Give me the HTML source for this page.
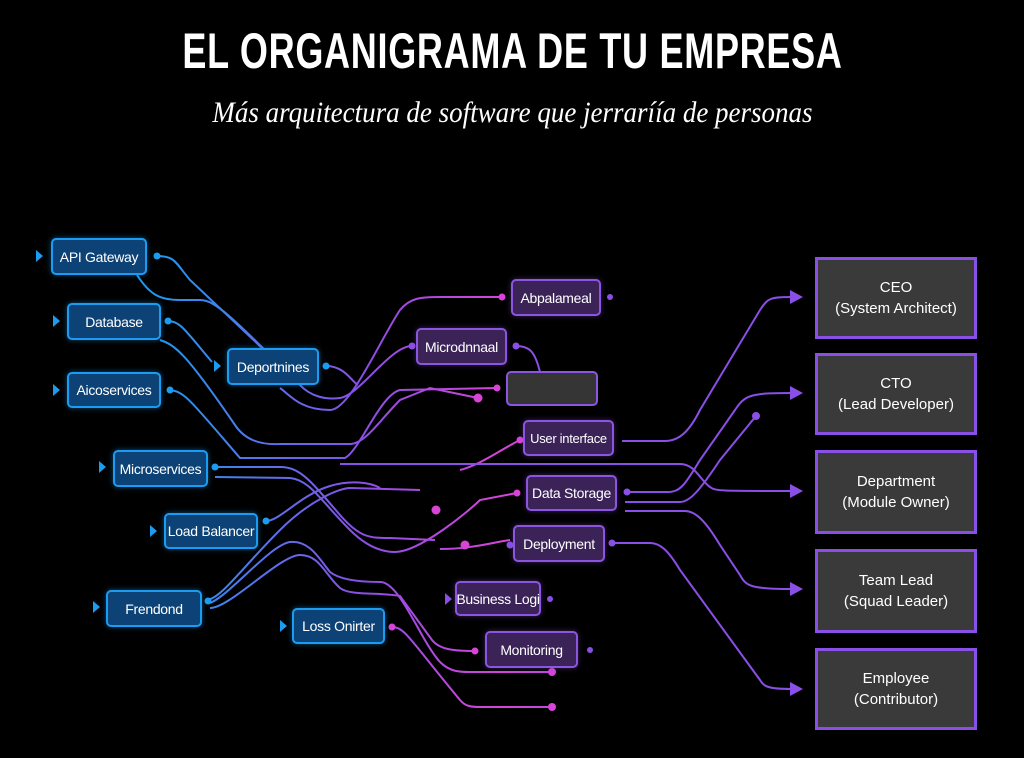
<!DOCTYPE html>
<html><head><meta charset="utf-8"><style>
html,body{margin:0;padding:0;background:#000;}
body{width:1024px;height:758px;position:relative;overflow:hidden;font-family:"Liberation Sans",sans-serif;}
.t{position:absolute;left:0;width:1024px;text-align:center;color:#fff;}
.b{position:absolute;box-sizing:border-box;border-radius:5px;color:#fff;font-size:14px;display:flex;align-items:center;justify-content:center;white-space:nowrap;letter-spacing:-0.3px;}
.bl{background:#0c4275;border:2px solid #1c9cf0;box-shadow:0 0 6px rgba(30,150,240,.5);}
.pu{background:#3b2358;border:2px solid #8c55e0;box-shadow:0 0 6px rgba(140,85,224,.4);}
.r{position:absolute;left:815px;width:162px;box-sizing:border-box;background:#3a3a3a;border:3px solid #8a4fe6;color:#fff;font-size:15px;text-align:center;display:flex;flex-direction:column;justify-content:center;line-height:21px;}
</style></head><body>
<div class="t" style="top:22px;font-size:50px;font-weight:bold;letter-spacing:1px;"><span style="display:inline-block;transform:scaleX(0.72);font-family:'Liberation Sans Narrow','Liberation Sans',sans-serif;">EL ORGANIGRAMA DE TU EMPRESA</span></div>
<div class="t" style="top:96px;font-size:30px;font-style:italic;font-family:'Liberation Serif',serif;"><span style="display:inline-block;transform:scaleX(0.9);">Más arquitectura de software que jerraríía de personas</span></div>

<svg width="1024" height="758" style="position:absolute;left:0;top:0" fill="none" stroke-width="2">
<defs>
<linearGradient id="g" gradientUnits="userSpaceOnUse" x1="150" y1="0" x2="620" y2="0">
<stop offset="0" stop-color="#1c9cf0"/><stop offset="0.45" stop-color="#8a4fe6"/><stop offset="0.75" stop-color="#d844d8"/><stop offset="1" stop-color="#9a4fe6"/></linearGradient>
<marker id="a" markerWidth="14" markerHeight="14" refX="2" refY="7" orient="auto" markerUnits="userSpaceOnUse"><path d="M0,0 L13,7 L0,14Z" fill="#8a4fe6"/></marker>
</defs>
<g stroke="url(#g)">
<path d="M157,256 C175,256 175,262 190,280 L262,348"/>
<path d="M137,275 C150,295 160,300 180,300 L200,300 C215,300 230,315 300,385 C310,396 325,400 340,398 C360,395 390,346 412,346"/>
<path d="M168,321 C180,321 185,330 212,362"/>
<path d="M160,340 C175,345 185,352 235,425 C245,440 260,445 280,444 L350,444 C365,444 380,420 400,400 L430,388 L478,398"/>
<path d="M326,366 C345,366 352,382 358,385"/>
<path d="M280,388 C290,395 300,410 330,410 C350,410 380,340 400,310 C410,298 420,297 440,297 L502,297"/>
<path d="M170,390 C185,392 190,400 240,458 L345,458 C360,450 380,395 400,390 L497,388"/>
<path d="M215,467 L280,467 C300,467 310,480 340,515 C360,538 370,538 390,538 L435,540"/>
<path d="M215,477 L290,478 C310,480 320,500 350,530 C365,545 380,552 395,552 C420,552 470,510 480,500 L517,493"/>
<path d="M206,600 C220,600 240,570 280,530 C310,500 340,488 350,488 L420,490"/>
<path d="M266,521 C280,521 300,495 330,486 C350,480 370,482 380,488"/>
<path d="M210,603 C230,595 270,545 290,542 C310,540 320,560 330,572 C340,580 360,582 380,582 C400,582 420,640 440,662 C450,672 460,672 470,672 L552,672"/>
<path d="M210,608 C230,608 280,555 300,555 C320,555 325,575 340,588 C350,596 380,592 400,596 L432,640 C440,650 455,651 475,651"/>
<path d="M392,627 C405,627 410,640 460,700 C465,706 470,707 480,707 L552,707"/>
<path d="M440,549 C470,549 490,543 510,540"/>
<path d="M520,440 C500,450 480,465 460,470"/>
</g>
<g stroke="#8a4fe6">
<path d="M622,441 L665,441 C680,441 690,430 700,410 L760,310 C768,298 770,297 792,297" marker-end="url(#a)"/>
<path d="M627,492 L668,492 C680,492 685,485 700,460 L735,410 C745,395 750,393 792,393" marker-end="url(#a)"/>
<path d="M625,502 L680,502 C690,502 700,490 720,460 L756,416"/>
<path d="M340,464 L680,464 C695,464 700,480 710,487 C715,491 720,491 792,491" marker-end="url(#a)"/>
<path d="M625,511 L685,511 C695,511 705,520 720,545 L740,575 C746,586 750,589 792,589" marker-end="url(#a)"/>
<path d="M612,543 L650,543 C660,543 668,550 680,570 L760,680 C764,686 766,689 792,689" marker-end="url(#a)"/>
<path d="M516,346 C530,346 535,352 540,372"/>
</g>
<g fill="#1c9cf0">
<circle cx="157" cy="256" r="3.5"/><circle cx="168" cy="321" r="3.5"/><circle cx="170" cy="390" r="3.5"/><circle cx="215" cy="467" r="3.5"/><circle cx="326" cy="366" r="3.5"/><circle cx="266" cy="521" r="3.5"/><circle cx="208" cy="601" r="3.5"/>
<path d="M36,250 l7,6 l-7,6z"/><path d="M53,315 l7,6 l-7,6z"/><path d="M53,384 l7,6 l-7,6z"/><path d="M99,461 l7,6 l-7,6z"/><path d="M150,525 l7,6 l-7,6z"/><path d="M93,601 l7,6 l-7,6z"/><path d="M280,620 l7,6 l-7,6z"/><path d="M214,360 l7,6 l-7,6z"/>
</g>
<g fill="#d844d8">
<circle cx="502" cy="297" r="3.5"/><circle cx="497" cy="388" r="3.5"/><circle cx="478" cy="398" r="4.5"/><circle cx="520" cy="440" r="3.5"/><circle cx="517" cy="493" r="3.5"/><circle cx="436" cy="510" r="4.5"/><circle cx="465" cy="545" r="4.5"/><circle cx="475" cy="651" r="3.5"/><circle cx="552" cy="672" r="4"/><circle cx="552" cy="707" r="4"/><circle cx="392" cy="627" r="3.5"/>
</g>
<g fill="#8a4fe6">
<circle cx="412" cy="346" r="3.5"/><circle cx="516" cy="346" r="3.5"/><circle cx="627" cy="492" r="3.5"/><circle cx="612" cy="543" r="3.5"/><circle cx="510" cy="545" r="3.5"/><circle cx="756" cy="416" r="4"/><circle cx="550" cy="599" r="3"/><circle cx="590" cy="650" r="3"/><circle cx="610" cy="297" r="3"/>
<path d="M445,593 l7,6 l-7,6z"/>
</g>
</svg>

<div class="b bl" style="left:51px;top:238px;width:96px;height:37px;">API Gateway</div>
<div class="b bl" style="left:67px;top:303px;width:94px;height:37px;">Database</div>
<div class="b bl" style="left:67px;top:372px;width:94px;height:36px;">Aicoservices</div>
<div class="b bl" style="left:113px;top:450px;width:95px;height:37px;">Microservices</div>
<div class="b bl" style="left:227px;top:348px;width:92px;height:37px;">Deportnines</div>
<div class="b bl" style="left:164px;top:513px;width:94px;height:36px;">Load Balancer</div>
<div class="b bl" style="left:106px;top:590px;width:96px;height:37px;">Frendond</div>
<div class="b bl" style="left:292px;top:608px;width:93px;height:36px;">Loss Onirter</div>

<div class="b pu" style="left:511px;top:279px;width:90px;height:37px;">Abpalameal</div>
<div class="b pu" style="left:416px;top:328px;width:91px;height:37px;">Microdnnaal</div>
<div class="b" style="left:506px;top:371px;width:92px;height:35px;background:#353535;border:2px solid #8c55e0;"></div>
<div class="b pu" style="left:523px;top:420px;width:91px;height:36px;font-size:13px;">User interface</div>
<div class="b pu" style="left:526px;top:475px;width:91px;height:36px;">Data Storage</div>
<div class="b pu" style="left:513px;top:525px;width:92px;height:37px;">Deployment</div>
<div class="b pu" style="left:455px;top:581px;width:86px;height:35px;">Business Logi</div>
<div class="b pu" style="left:485px;top:631px;width:93px;height:37px;">Monitoring</div>

<div class="r" style="top:257px;height:82px;"><div>CEO</div><div>(System Architect)</div></div>
<div class="r" style="top:353px;height:82px;"><div>CTO</div><div>(Lead Developer)</div></div>
<div class="r" style="top:450px;height:84px;"><div>Department</div><div>(Module Owner)</div></div>
<div class="r" style="top:549px;height:84px;"><div>Team Lead</div><div>(Squad Leader)</div></div>
<div class="r" style="top:648px;height:82px;"><div>Employee</div><div>(Contributor)</div></div>
</body></html>
